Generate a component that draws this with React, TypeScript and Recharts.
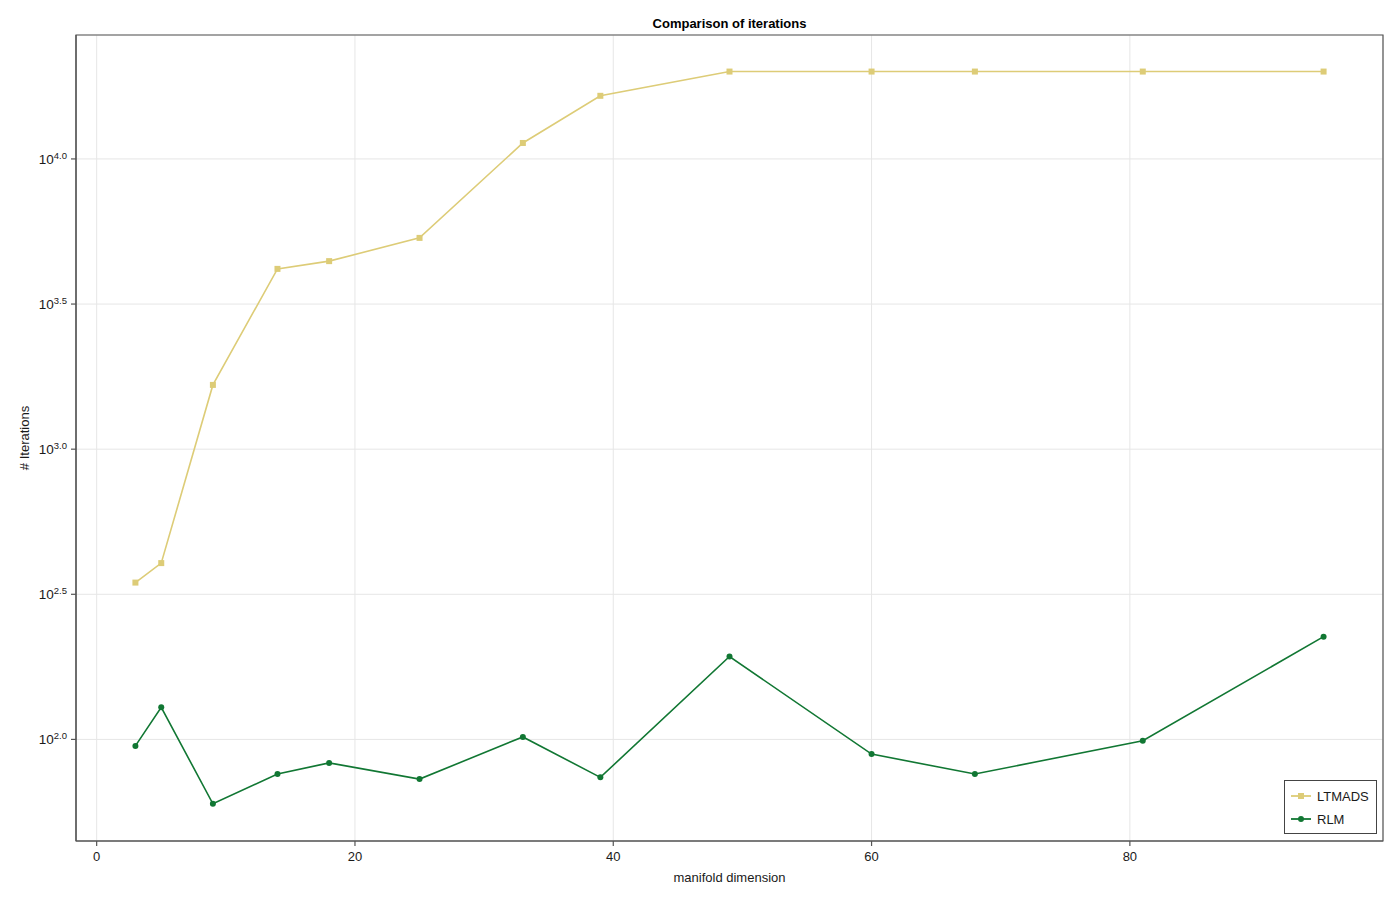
import { LineChart, Line, XAxis, YAxis, CartesianGrid, Legend, ReferenceArea } from 'recharts';

const dims = [3, 5, 9, 14, 18, 25, 33, 39, 49, 60, 68, 81, 95];
const ltmads = [347, 405, 1665, 4180, 4445, 5345, 11350, 16500, 20000, 20000, 20000, 20000, 20000];
const rlm = [95, 129, 60, 76, 83, 73, 102, 74, 193, 89, 76, 99, 226];

const xTicks = [0, 20, 40, 60, 80];
const yExponents = [2.0, 2.5, 3.0, 3.5, 4.0];
const yTicks = yExponents.map((e) => Math.pow(10, e));

const X_DOMAIN = [-1.6, 99.6];
const Y_DOMAIN = [Math.pow(10, 1.65), Math.pow(10, 4.427)];

const SAND = '#DDCC77';
const GREEN = '#117733';
const FONT = '"Liberation Sans", Arial, sans-serif';

const data = dims.map((d, i) => ({ dim: d, LTMADS: ltmads[i], RLM: rlm[i] }));

// eslint-disable-next-line @typescript-eslint/no-explicit-any
function LogTick({ x, y, payload }: any) {
  const exp = Math.log10(payload.value).toFixed(1);
  return (
    <text x={x - 2} y={y + 5} textAnchor="end" fontSize={13.5} fill="#1a1a1a" fontFamily={FONT}>
      10
      <tspan dy={-5} fontSize={9.5}>
        {exp}
      </tspan>
    </text>
  );
}

// eslint-disable-next-line @typescript-eslint/no-explicit-any
function SquareDot({ cx, cy, index }: any) {
  return <rect key={index} x={cx - 3} y={cy - 3} width={6} height={6} fill={SAND} />;
}

function LegendBox() {
  const rows = [
    { name: 'LTMADS', color: SAND, square: true },
    { name: 'RLM', color: GREEN, square: false },
  ];
  return (
    <div
      style={{
        border: '1px solid #444',
        background: '#fff',
        width: 91,
        height: 52,
        boxSizing: 'content-box',
        fontFamily: FONT,
        fontSize: 13,
        color: '#1a1a1a',
      }}
    >
      <svg width={91} height={52}>
        {rows.map((r, i) => (
          <g key={r.name} transform={`translate(0, ${15 + i * 23})`}>
            <line x1={6} x2={26} y1={0} y2={0} stroke={r.color} strokeWidth={1.8} />
            {r.square ? (
              <rect x={13} y={-3} width={6} height={6} fill={r.color} />
            ) : (
              <circle cx={16} cy={0} r={3} fill={r.color} />
            )}
            <text x={32} y={4.5} fontSize={13} fill="#1a1a1a" fontFamily={FONT}>
              {r.name}
            </text>
          </g>
        ))}
      </svg>
    </div>
  );
}

export default function App() {
  return (
    <div style={{ position: 'absolute', left: 0, top: 0, width: 1400, height: 900, background: '#fff' }}>
      <LineChart width={1400} height={900} data={data} margin={{ top: 35, right: 17, bottom: 0, left: 0 }}>
        <CartesianGrid stroke="#e6e6e6" strokeWidth={1} />
        <XAxis
          dataKey="dim"
          type="number"
          domain={X_DOMAIN}
          ticks={xTicks}
          height={59}
          tickSize={5}
          tickMargin={6}
          stroke="#555"
          strokeWidth={1.2}
          tick={{ fontSize: 13, fill: '#1a1a1a', fontFamily: FONT }}
          allowDataOverflow
        />
        <YAxis
          type="number"
          scale="log"
          domain={Y_DOMAIN}
          ticks={yTicks}
          width={76}
          tickSize={5}
          stroke="#555"
          strokeWidth={1.2}
          tick={<LogTick />}
          allowDataOverflow
        />
        <ReferenceArea
          x1={X_DOMAIN[0]}
          x2={X_DOMAIN[1]}
          y1={Y_DOMAIN[0]}
          y2={Y_DOMAIN[1]}
          fill="none"
          fillOpacity={0}
          stroke="#555"
          strokeWidth={1.2}
          ifOverflow="visible"
        />
        <Line
          dataKey="LTMADS"
          stroke={SAND}
          strokeWidth={1.6}
          dot={<SquareDot />}
          activeDot={false}
          isAnimationActive={false}
        />
        <Line
          dataKey="RLM"
          stroke={GREEN}
          strokeWidth={1.6}
          dot={{ r: 3, fill: GREEN, stroke: 'none' }}
          activeDot={false}
          isAnimationActive={false}
        />
        <Legend
          layout="vertical"
          align="center"
          verticalAlign="middle"
          content={() => <LegendBox />}
          wrapperStyle={{ left: 1284, top: 780, width: 93 }}
        />
        <text x={729.5} y={28} textAnchor="middle" fontSize={13} fontWeight="bold" fill="#000" fontFamily={FONT}>
          Comparison of iterations
        </text>
        <text x={729.5} y={882} textAnchor="middle" fontSize={13} fill="#1a1a1a" fontFamily={FONT}>
          manifold dimension
        </text>
        <text
          x={29}
          y={438}
          textAnchor="middle"
          fontSize={13}
          fill="#1a1a1a"
          fontFamily={FONT}
          transform="rotate(-90 29 438)"
        >
          # Iterations
        </text>
      </LineChart>
    </div>
  );
}
